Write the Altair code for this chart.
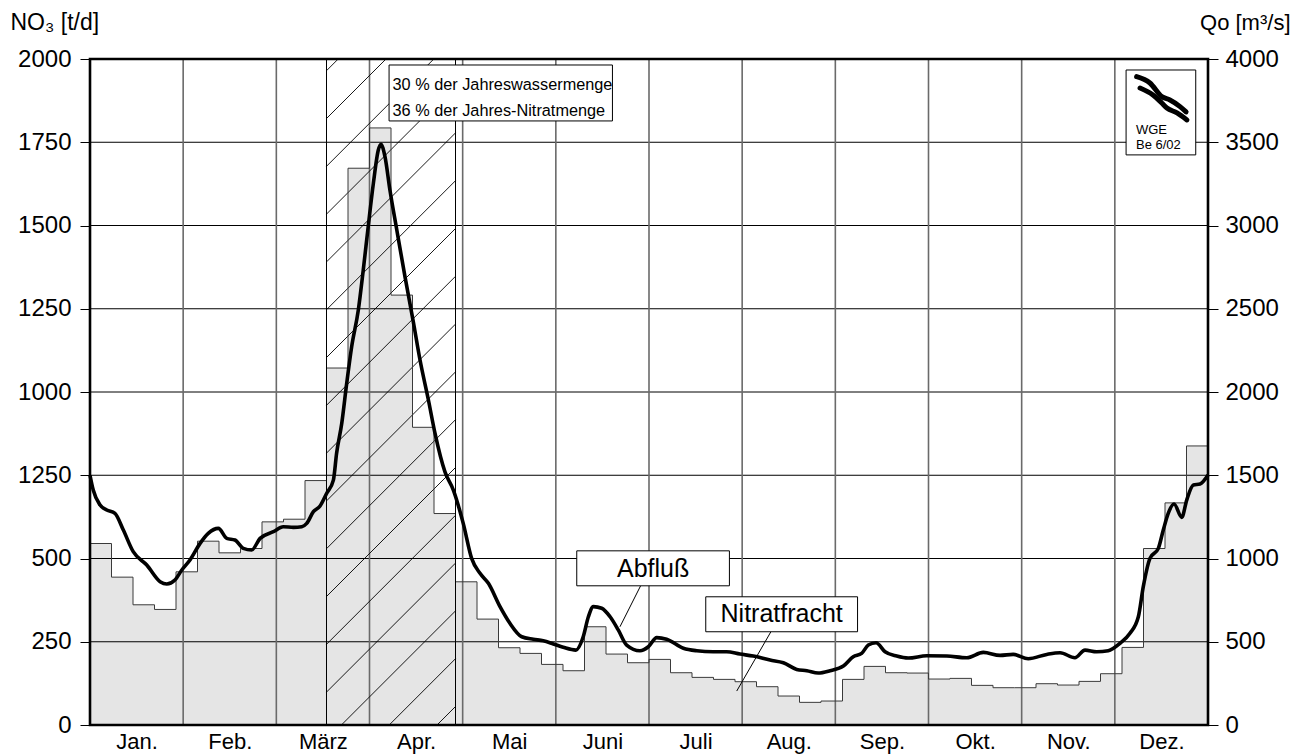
import altair as alt
import pandas as pd

# ---------------- data ----------------
W, H = 1118, 666
WEEKS = 52
months = ["Jan.", "Feb.", "März", "Apr.", "Mai", "Juni", "Juli", "Aug.", "Sep.", "Okt.", "Nov.", "Dez."]

# weekly nitrate load NO3 [t/d]
nitrat_weekly = [545, 444, 361, 347, 460, 552, 517, 530, 610, 618,
                 734, 1072, 1672, 1793, 1291, 894, 635, 430, 318, 232,
                 215, 182, 163, 295, 213, 187, 197, 157, 143, 137,
                 130, 115, 87, 68, 72, 137, 176, 157, 156, 138,
                 140, 119, 112, 112, 124, 120, 131, 154, 233, 530,
                 667, 838]

# discharge Qo [m3/s] (position in weeks, value)
abfluss_week = [0.0, 0.15, 0.47, 0.78, 1.16, 1.55, 2.01, 2.64, 3.26, 3.57,
                3.95, 4.27, 4.65, 5.12, 5.50, 5.97, 6.36, 6.74, 7.13, 7.52,
                7.91, 8.53, 8.99, 9.46, 9.85, 10.08, 10.39, 10.70, 11.01, 11.32,
                11.47, 11.71, 11.94, 12.17, 12.48, 12.71, 12.94, 13.18, 13.41, 13.53,
                13.72, 13.95, 14.27, 14.65, 15.04, 15.35, 15.74, 16.05, 16.51, 16.90,
                17.36, 17.75, 18.14, 18.53, 19.07, 19.53, 20.08, 20.62, 21.08, 21.55,
                22.01, 22.60, 22.94, 23.18, 23.41, 23.80, 24.19, 24.57, 24.96, 25.58,
                25.97, 26.36, 26.82, 27.60, 28.22, 28.99, 29.61, 30.23, 30.85, 31.63,
                32.25, 32.87, 33.34, 33.87, 34.42, 35.04, 35.50, 35.89, 36.20, 36.56,
                36.98, 37.52, 38.06, 38.92, 39.85, 40.78, 41.55, 42.33, 42.94, 43.64,
                44.50, 45.12, 45.81, 46.28, 46.82, 47.36, 47.91, 48.37, 48.76, 48.99,
                49.30, 49.69, 49.92, 50.15, 50.42, 50.78, 51.01, 51.32, 51.63, 52.0]
abfluss_q = [1500, 1411, 1321, 1291, 1271, 1171, 1041, 961, 861, 847,
             871, 931, 991, 1091, 1151, 1181, 1121, 1111, 1061, 1051,
             1121, 1161, 1191, 1187, 1191, 1211, 1281, 1315, 1392, 1471,
             1632, 1812, 2052, 2272, 2492, 2733, 2993, 3253, 3453, 3488,
             3413, 3213, 2973, 2693, 2420, 2192, 1952, 1750, 1520, 1411,
             1211, 1001, 911, 851, 711, 611, 530, 515, 506, 487,
             467, 450, 530, 650, 711, 701, 650, 571, 480, 446,
             470, 525, 515, 461, 446, 440, 440, 426, 414, 390,
             374, 334, 326, 312, 326, 354, 410, 430, 480, 494,
             440, 414, 402, 416, 414, 404, 436, 418, 424, 398,
             424, 434, 404, 450, 440, 446, 491, 551, 650, 831,
             1001, 1061, 1171, 1271, 1327, 1247, 1351, 1441, 1447, 1501]

left_ticks = [0, 250, 500, 750, 1000, 1250, 1500, 1750, 2000]
right_ticks = [0, 500, 1000, 1500, 2000, 2500, 3000, 3500, 4000]
hatch_weeks = [11, 17]
info_lines = ["30 % der Jahreswassermenge", "36 % der Jahres-Nitratmenge"]

FONT = "Liberation Sans"

# ---------------- helpers ----------------
xs = alt.Scale(domain=[0, WEEKS], nice=False, zero=False)
ys = alt.Scale(domain=[0, 2000], nice=False)
qs = alt.Scale(domain=[0, 4000], nice=False)


def X(f="x", axis=None):
    return alt.X(f, type="quantitative", scale=xs, axis=axis)


def Y(f="y", axis=None, scale=ys):
    return alt.Y(f, type="quantitative", scale=scale, axis=axis)


month_w = WEEKS / 12
month_centers = [(i + 0.5) * month_w for i in range(12)]
month_bounds = [i * month_w for i in range(1, 12)]
month_arr = "[" + ",".join("'" + m + "'" for m in months) + "]"

x_axis = alt.Axis(values=month_centers, labelExpr=month_arr + "[floor(datum.value*12/52)]",
                  tickSize=0, domain=False, grid=False, labelFont=FONT, labelFontSize=22,
                  labelColor="black", labelPadding=6, title=None, orient="bottom",
                  labelOverlap=False, labelFlush=False)

left_axis = alt.Axis(values=left_ticks, orient="left",
                     labelExpr="datum.value == 750 ? '1250' : format(datum.value, 'd')",
                     tickSize=10, tickColor="black", tickWidth=1, domain=False, grid=False,
                     labelFont=FONT, labelFontSize=24, labelColor="black", labelPadding=9,
                     title="NO₃ [t/d]", titleAngle=0, titleX=-80, titleY=-30,
                     titleAlign="left", titleBaseline="alphabetic", titleFont=FONT,
                     titleFontSize=23, titleFontWeight="normal", titleColor="black")

right_axis = alt.Axis(values=right_ticks, orient="right", format="d",
                      tickSize=10, tickColor="black", tickWidth=1, domain=False, grid=False,
                      labelFont=FONT, labelFontSize=24, labelColor="black", labelPadding=7,
                      title="Qo [m³/s]", titleAngle=0, titleX=82, titleY=-30,
                      titleAlign="right", titleBaseline="alphabetic", titleFont=FONT,
                      titleFontSize=22, titleFontWeight="normal", titleColor="black")

# ---------------- tables ----------------
step_df = pd.DataFrame({"x": list(range(WEEKS)) + [WEEKS],
                        "y": nitrat_weekly + [nitrat_weekly[-1]]})
q_df = pd.DataFrame({"x": abfluss_week, "q": abfluss_q})
hgrid_df = pd.DataFrame({"y": left_ticks[1:-1]})
vgrid_df = pd.DataFrame({"x": month_bounds})

# hatch lines (45 deg), clipped to the hatched period
px_wk = W / WEEKS
px_v = H / 2000
hatch_c0, hatch_gap = 296.0, 47.8
X0, X1 = hatch_weeks[0] * px_wk, hatch_weeks[1] * px_wk
hrows = []
for n in range(-30, 40):
    c = hatch_c0 + hatch_gap * n
    a = max(X0, c - H)
    b = min(X1, c)
    if a < b:
        hrows.append({"x": a / px_wk, "y": 2000 - (c - a) / px_v,
                      "x2": b / px_wk, "y2": 2000 - (c - b) / px_v})
hatch_df = pd.DataFrame(hrows)
hatch_box = pd.DataFrame({"x": [hatch_weeks[0]], "x2": [hatch_weeks[1]], "y": [0], "y2": [2000]})

# ---------------- layers ----------------
fill = alt.Chart(step_df).mark_area(interpolate="step-after", color="#e5e5e5", opacity=1).encode(
    x=X("x", x_axis), y=Y("y", left_axis))
outline = alt.Chart(step_df).mark_line(interpolate="step-after", color="#3a3a3a", strokeWidth=1).encode(
    x=X(), y=Y())
hgrid = alt.Chart(hgrid_df).mark_rule(color="black", strokeWidth=1).encode(y=Y())
vgrid = alt.Chart(vgrid_df).mark_rule(color="#6a6a6a", strokeWidth=1.6).encode(x=X())
hatch = alt.Chart(hatch_df).mark_rule(color="black", strokeWidth=0.9).encode(
    x=X(), x2="x2", y=Y(), y2="y2")
hbox = alt.Chart(hatch_box).mark_rect(fillOpacity=0, stroke="black", strokeWidth=1).encode(
    x=X(), x2="x2", y=Y(), y2="y2")
qline = alt.Chart(q_df).mark_line(color="black", strokeWidth=3.6, interpolate="monotone").encode(
    x=X(), y=Y("q", right_axis, qs))

# annotation boxes
boxes = pd.DataFrame({
    "x": [13.91, 22.64, 28.64, 48.19],
    "x2": [24.3, 29.74, 35.70, 51.43],
    "y": [1982, 523, 385, 1967],
    "y2": [1814, 418, 280, 1712],
})
box_layer = alt.Chart(boxes).mark_rect(fill="white", stroke="black", strokeWidth=1).encode(
    x=X(), x2="x2", y=Y(), y2="y2")

info_df = pd.DataFrame({"x": [14.07, 14.07], "y": [1908, 1830], "t": info_lines})
info_text = alt.Chart(info_df).mark_text(font=FONT, fontSize=16.3, align="left",
                                          baseline="alphabetic", color="black").encode(
    x=X(), y=Y(), text="t")

label_df = pd.DataFrame({"x": [26.19, 32.17], "y": [445, 308], "t": ["Abfluß", "Nitratfracht"]})
label_text = alt.Chart(label_df).mark_text(font=FONT, fontSize=25, align="center",
                                            baseline="alphabetic", color="black").encode(
    x=X(), y=Y(), text="t")

leader_df = pd.DataFrame({"x": [25.61, 31.67], "y": [418, 280], "x2": [24.65, 30.08], "y2": [295, 102]})
leaders = alt.Chart(leader_df).mark_rule(color="black", strokeWidth=1).encode(
    x=X(), x2="x2", y=Y(), y2="y2")

# logo
logo_df = pd.DataFrame({
    "x": [48.68, 49.30, 49.85, 50.23, 50.70, 50.98, 48.84, 49.44, 49.85, 50.09, 50.56, 51.02],
    "y": [1947, 1928, 1887, 1877, 1857, 1841, 1913, 1892, 1868, 1853, 1838, 1817],
    "s": ["a"] * 6 + ["b"] * 6,
    "o": list(range(12)),
})
logo = alt.Chart(logo_df).mark_line(color="black", strokeWidth=5, strokeCap="round",
                                    interpolate="monotone").encode(
    x=X(), y=Y(), detail="s:N", order="o:Q")
logo_txt_df = pd.DataFrame({"x": [48.65, 48.65], "y": [1776, 1730], "t": ["WGE", "Be 6/02"]})
logo_txt = alt.Chart(logo_txt_df).mark_text(font=FONT, fontSize=13, align="left",
                                             baseline="alphabetic", color="black").encode(
    x=X(), y=Y(), text="t")

frame_df = pd.DataFrame({"x": [0], "x2": [WEEKS], "y": [0], "y2": [2000]})
frame = alt.Chart(frame_df).mark_rect(fillOpacity=0, stroke="black", strokeWidth=2.6).encode(
    x=X(), x2="x2", y=Y(), y2="y2")

chart = alt.layer(
    fill, hgrid, vgrid, hatch, outline, hbox, qline,
    leaders, box_layer, info_text, label_text, logo, logo_txt, frame
).resolve_scale(x="independent", y="independent").properties(
    width=W, height=H,
    padding={"left": 82, "top": 51, "right": 85, "bottom": 30},
    autosize=alt.AutoSizeParams(type="none"),
    background="white",
).configure_view(stroke=None)

chart.save("out.html", embed_options={"renderer": "svg", "actions": False})
